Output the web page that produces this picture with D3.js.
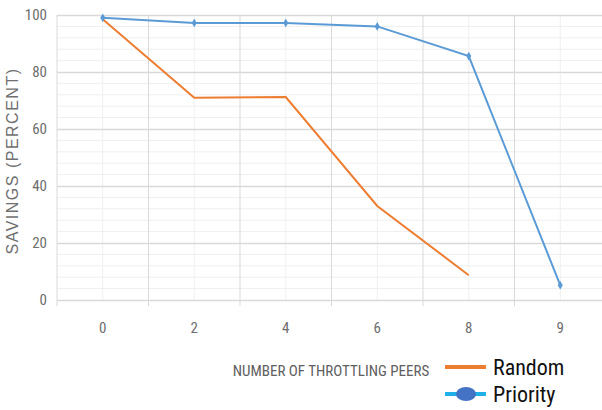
<!DOCTYPE html>
<html>
<head>
<meta charset="utf-8">
<script src="https://cdn.jsdelivr.net/npm/d3@7"></script>
<style>
  body { margin: 0; background: #fff; }
  svg { display: block; }
  text { font-family: "Liberation Sans Narrow", "Arial Narrow", "Roboto Condensed", sans-serif; }
</style>
</head>
<body>
<div id="graph"></div>
<script>
// chart values
var peers = ["0", "2", "4", "6", "8", "9"];
var randomVals = [98.5, 71, 71.2, 33, 8.7, null];
var priorityVals = [99, 97.2, 97.2, 96, 85.6, 5.2];
var yTicks = [0, 20, 40, 60, 80, 100];

var width = 602, height = 410;

var svg = d3.select("#graph")
    .append("svg")
    .attr("width", width)
    .attr("height", height);

var x = d3.scaleBand()
    .domain(peers)
    .range([57, 606])
    .padding(0);

var y = d3.scaleLinear()
    .domain([0, 100])
    .range([300, 15]);

// minor horizontal grid
var minor = d3.range(4, 100, 4).filter(function(v) { return v % 20 !== 0; });
svg.append("g").selectAll("line")
    .data(minor)
    .enter().append("line")
    .attr("x1", 57).attr("x2", 606)
    .attr("y1", function(d) { return y(d); })
    .attr("y2", function(d) { return y(d); })
    .style("stroke", "#efefef")
    .style("stroke-width", 1);

// minor vertical grid at category centres
svg.append("g").selectAll("line")
    .data(peers)
    .enter().append("line")
    .attr("x1", function(d) { return x(d) + x.bandwidth() / 2; })
    .attr("x2", function(d) { return x(d) + x.bandwidth() / 2; })
    .attr("y1", y(100)).attr("y2", y(0))
    .style("stroke", "#f0f0f0")
    .style("stroke-width", 1);

// major vertical grid at band edges (with little ticks below)
svg.append("g").selectAll("line")
    .data(peers)
    .enter().append("line")
    .attr("x1", function(d) { return x(d); })
    .attr("x2", function(d) { return x(d); })
    .attr("y1", y(100)).attr("y2", y(0) + 6)
    .style("stroke", "#d9d9d9")
    .style("stroke-width", 1);

// major horizontal grid + y tick labels
var yAxis = svg.append("g")
    .attr("transform", "translate(57,0)")
    .call(d3.axisLeft(y).tickValues(yTicks).tickSize(-549).tickPadding(10));
yAxis.select(".domain").remove();
yAxis.selectAll(".tick line").style("stroke", "#d9d9d9").style("stroke-width", 1.3);
yAxis.selectAll(".tick text")
    .style("font-size", "15px")
    .style("fill", "#6e6e6e")
    .style("font-family", null);

// x tick labels
var xAxis = svg.append("g")
    .attr("transform", "translate(0,300)")
    .call(d3.axisBottom(x).tickSize(0).tickPadding(22));
xAxis.select(".domain").remove();
xAxis.selectAll(".tick text")
    .style("font-size", "15px")
    .style("fill", "#6e6e6e")
    .style("font-family", null);

// axis titles
svg.append("text")
    .attr("transform", "translate(18,161) rotate(-90)")
    .style("text-anchor", "middle")
    .style("font-family", "'Liberation Sans', Arial, sans-serif")
    .style("font-size", "16px")
    .style("fill", "#707070")
    .style("letter-spacing", "1.5px")
    .text("SAVINGS (PERCENT)");

svg.append("text")
    .attr("x", 331)
    .attr("y", 376)
    .style("text-anchor", "middle")
    .style("font-size", "15px")
    .style("fill", "#606060")
    .text("NUMBER OF THROTTLING PEERS");

// lines
var line = d3.line()
    .defined(function(d) { return d.v !== null; })
    .x(function(d) { return x(d.k) + x.bandwidth() / 2; })
    .y(function(d) { return y(d.v); });

var randomData = peers.map(function(k, i) { return { k: k, v: randomVals[i] }; });
var priorityData = peers.map(function(k, i) { return { k: k, v: priorityVals[i] }; });

svg.append("path")
    .datum(randomData)
    .attr("d", line)
    .style("fill", "none")
    .style("stroke", "#ed7d31")
    .style("stroke-width", 2);

svg.append("path")
    .datum(priorityData)
    .attr("d", line)
    .style("fill", "none")
    .style("stroke", "#5b9bd5")
    .style("stroke-width", 2);

svg.append("g").selectAll("path")
    .data(priorityData)
    .enter().append("path")
    .attr("d", d3.symbol().type(d3.symbolDiamond).size(22))
    .attr("transform", function(d) { return "translate(" + (x(d.k) + x.bandwidth() / 2) + "," + y(d.v) + ")"; })
    .style("fill", "#5b9bd5");

// legend
var legend = svg.append("g");
legend.append("line")
    .attr("x1", 445).attr("x2", 486).attr("y1", 367).attr("y2", 367)
    .style("stroke", "#ed7d31").style("stroke-width", 4);
legend.append("text")
    .attr("x", 493).attr("y", 375)
    .style("font-size", "22px").style("fill", "#111")
    .text("Random");
legend.append("line")
    .attr("x1", 445).attr("x2", 486).attr("y1", 394).attr("y2", 394)
    .style("stroke", "#1fb0e8").style("stroke-width", 4);
legend.append("ellipse")
    .attr("cx", 466).attr("cy", 394).attr("rx", 10).attr("ry", 7)
    .style("fill", "#4472c4");
legend.append("text")
    .attr("x", 493).attr("y", 402)
    .style("font-size", "22px").style("fill", "#111")
    .text("Priority");
</script>
</body>
</html>
